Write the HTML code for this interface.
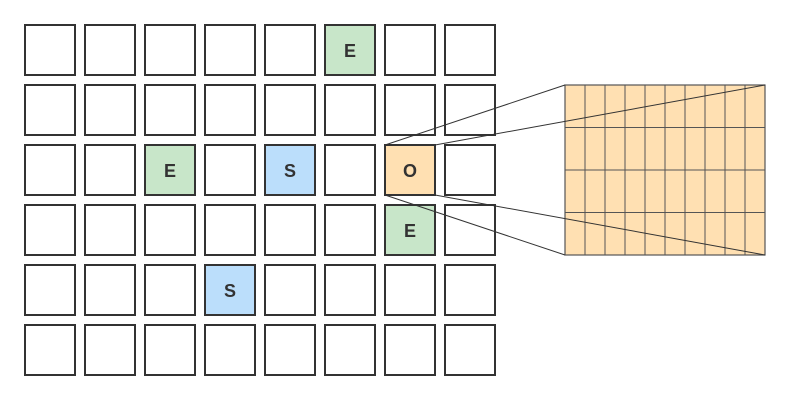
<!DOCTYPE html>
<html><head><meta charset="utf-8"><style>
html,body{margin:0;padding:0;background:#fff;}
svg{display:block;}
text{font-family:"Segoe UI","Liberation Sans","DejaVu Sans",sans-serif;font-weight:bold;font-size:18px;fill:#333;}
</style></head><body>
<svg width="790" height="400" viewBox="0 0 790 400" xmlns="http://www.w3.org/2000/svg">
<g stroke="#333" stroke-width="2" fill="#fff">
<rect x="25" y="25" width="50" height="50"/><rect x="85" y="25" width="50" height="50"/><rect x="145" y="25" width="50" height="50"/><rect x="205" y="25" width="50" height="50"/><rect x="265" y="25" width="50" height="50"/><rect x="325" y="25" width="50" height="50" fill="#c8e6c9"/><rect x="385" y="25" width="50" height="50"/><rect x="445" y="25" width="50" height="50"/>
<rect x="25" y="85" width="50" height="50"/><rect x="85" y="85" width="50" height="50"/><rect x="145" y="85" width="50" height="50"/><rect x="205" y="85" width="50" height="50"/><rect x="265" y="85" width="50" height="50"/><rect x="325" y="85" width="50" height="50"/><rect x="385" y="85" width="50" height="50"/><rect x="445" y="85" width="50" height="50"/>
<rect x="25" y="145" width="50" height="50"/><rect x="85" y="145" width="50" height="50"/><rect x="145" y="145" width="50" height="50" fill="#c8e6c9"/><rect x="205" y="145" width="50" height="50"/><rect x="265" y="145" width="50" height="50" fill="#bbdefb"/><rect x="325" y="145" width="50" height="50"/><rect x="385" y="145" width="50" height="50" fill="#ffe0b2"/><rect x="445" y="145" width="50" height="50"/>
<rect x="25" y="205" width="50" height="50"/><rect x="85" y="205" width="50" height="50"/><rect x="145" y="205" width="50" height="50"/><rect x="205" y="205" width="50" height="50"/><rect x="265" y="205" width="50" height="50"/><rect x="325" y="205" width="50" height="50"/><rect x="385" y="205" width="50" height="50" fill="#c8e6c9"/><rect x="445" y="205" width="50" height="50"/>
<rect x="25" y="265" width="50" height="50"/><rect x="85" y="265" width="50" height="50"/><rect x="145" y="265" width="50" height="50"/><rect x="205" y="265" width="50" height="50" fill="#bbdefb"/><rect x="265" y="265" width="50" height="50"/><rect x="325" y="265" width="50" height="50"/><rect x="385" y="265" width="50" height="50"/><rect x="445" y="265" width="50" height="50"/>
<rect x="25" y="325" width="50" height="50"/><rect x="85" y="325" width="50" height="50"/><rect x="145" y="325" width="50" height="50"/><rect x="205" y="325" width="50" height="50"/><rect x="265" y="325" width="50" height="50"/><rect x="325" y="325" width="50" height="50"/><rect x="385" y="325" width="50" height="50"/><rect x="445" y="325" width="50" height="50"/>
</g>
<g text-anchor="middle">
<text x="350" y="57">E</text>
<text x="170" y="177">E</text>
<text x="290" y="177">S</text>
<text x="410" y="177">O</text>
<text x="410" y="237">E</text>
<text x="230" y="297">S</text>
</g>
<rect x="565" y="85" width="200" height="170" fill="#ffe0b2"/>
<g stroke="#555" stroke-width="1">
<line x1="585" y1="85" x2="585" y2="255"/><line x1="605" y1="85" x2="605" y2="255"/><line x1="625" y1="85" x2="625" y2="255"/><line x1="645" y1="85" x2="645" y2="255"/><line x1="665" y1="85" x2="665" y2="255"/><line x1="685" y1="85" x2="685" y2="255"/><line x1="705" y1="85" x2="705" y2="255"/><line x1="725" y1="85" x2="725" y2="255"/><line x1="745" y1="85" x2="745" y2="255"/>
<line x1="565" y1="127.5" x2="765" y2="127.5"/><line x1="565" y1="170" x2="765" y2="170"/><line x1="565" y1="212.5" x2="765" y2="212.5"/>
</g>
<rect x="565" y="85" width="200" height="170" fill="none" stroke="#555" stroke-width="1.2"/>
<g stroke="#333" stroke-width="1">
<line x1="385" y1="145" x2="565" y2="85"/>
<line x1="435" y1="145" x2="765" y2="85"/>
<line x1="385" y1="195" x2="565" y2="255"/>
<line x1="435" y1="195" x2="765" y2="255"/>
</g>
</svg>
</body></html>
